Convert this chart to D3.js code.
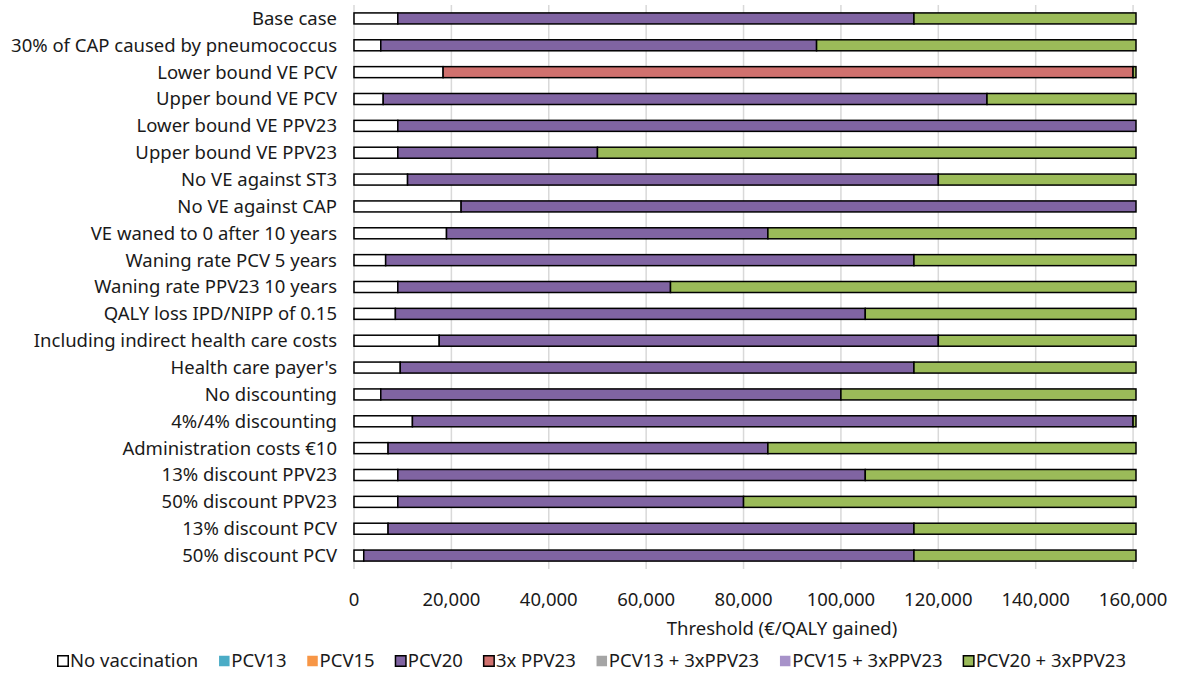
<!DOCTYPE html>
<html>
<head>
<meta charset="utf-8">
<script src="https://cdn.jsdelivr.net/npm/d3@7"></script>
<style>
  html, body { margin: 0; padding: 0; background: #fff; }
  svg { display: block; font-family: "Noto Sans", "DejaVu Sans", sans-serif; }
</style>
</head>
<body>
<svg id="chart" width="1178" height="675"></svg>
<script>
// Scenarios, top to bottom
const scenarios = [
  "Base case",
  "30% of CAP caused by pneumococcus",
  "Lower bound VE PCV",
  "Upper bound VE PCV",
  "Lower bound VE PPV23",
  "Upper bound VE PPV23",
  "No VE against ST3",
  "No VE against CAP",
  "VE waned to 0 after 10 years",
  "Waning rate PCV 5 years",
  "Waning rate PPV23 10 years",
  "QALY loss IPD/NIPP of 0.15",
  "Including indirect health care costs",
  "Health care payer's",
  "No discounting",
  "4%/4% discounting",
  "Administration costs €10",
  "13% discount PPV23",
  "50% discount PPV23",
  "13% discount PCV",
  "50% discount PCV"
];

// Width of the threshold range (€/QALY) over which each strategy is optimal
const noVaccination = [9000, 5500, 18300, 6000, 9000, 9000, 11000, 22000, 19000, 6500, 9000,
                       8500, 17500, 9500, 5500, 12000, 7000, 9000, 9000, 7000, 2000];
const pcv13 = new Array(21).fill(0);
const pcv15 = new Array(21).fill(0);
const pcv20 = [106000, 89500, 0, 124000, 151600, 41000, 109000, 138600, 66000, 108500, 56000,
               96500, 102500, 105500, 94500, 148000, 78000, 96000, 71000, 108000, 113000];
const ppv23x3 = [0, 0, 141700, 0, 0, 0, 0, 0, 0, 0, 0,
                 0, 0, 0, 0, 0, 0, 0, 0, 0, 0];
const pcv13ppv23 = new Array(21).fill(0);
const pcv15ppv23 = new Array(21).fill(0);
const pcv20ppv23 = [45600, 65600, 600, 30600, 0, 110600, 40600, 0, 75600, 45600, 95600,
                    55600, 40600, 45600, 60600, 600, 75600, 55600, 80600, 45600, 45600];

const xTicks = [0, 20000, 40000, 60000, 80000, 100000, 120000, 140000, 160000];
const xMax = 160600;

const series = [
  { name: "No vaccination",   values: noVaccination, color: "#ffffff", outline: true },
  { name: "PCV13",            values: pcv13,         color: "#4bacc6", outline: false },
  { name: "PCV15",            values: pcv15,         color: "#f79646", outline: false },
  { name: "PCV20",            values: pcv20,         color: "#8064a2", outline: true },
  { name: "3x PPV23",         values: ppv23x3,       color: "#d0716e", outline: true },
  { name: "PCV13 + 3xPPV23",  values: pcv13ppv23,   color: "#a5a5a5", outline: false },
  { name: "PCV15 + 3xPPV23",  values: pcv15ppv23,   color: "#a792c9", outline: false },
  { name: "PCV20 + 3xPPV23",  values: pcv20ppv23,   color: "#9bbb59", outline: true }
];

const svg = d3.select("#chart");
const textColor = "#1a1a1a";

// Pick a font size so the longest scenario label spans about 305px
const probe = svg.append("text").attr("font-size", 16).text("Including indirect health care costs");
const fs = Math.min(18.5, 16 * 305 / probe.node().getComputedTextLength());
probe.remove();

const x = d3.scaleLinear().domain([0, xMax]).range([354, 1136]);
const y = d3.scaleBand().domain(scenarios).range([5, 569])
  .paddingInner(0.59).paddingOuter(0.295);

// Vertical gridlines
svg.append("g").selectAll("line").data(xTicks).join("line")
  .attr("x1", d => x(d)).attr("x2", d => x(d))
  .attr("y1", 5).attr("y2", 569)
  .attr("stroke", "#d9d9d9").attr("stroke-width", 1.5);

// Stacked bars
const rows = scenarios.map((s, i) => {
  const r = { scenario: s };
  series.forEach(se => { r[se.name] = se.values[i]; });
  return r;
});
const stack = d3.stack().keys(series.map(s => s.name));
const layers = stack(rows);

const barG = svg.append("g");
layers.forEach((layer, k) => {
  const se = series[k];
  barG.append("g").selectAll("rect")
    .data(layer.filter(d => d[1] - d[0] > 0))
    .join("rect")
    .attr("x", d => x(d[0]))
    .attr("width", d => x(d[1]) - x(d[0]))
    .attr("y", d => y(d.data.scenario))
    .attr("height", y.bandwidth())
    .attr("fill", se.color)
    .attr("stroke", "#000")
    .attr("stroke-width", 1.5);
});

// Category labels
svg.append("g").selectAll("text").data(scenarios).join("text")
  .attr("x", 337)
  .attr("y", d => y(d) + y.bandwidth() / 2)
  .attr("dy", "0.35em")
  .attr("text-anchor", "end")
  .attr("font-size", fs)
  .attr("fill", textColor)
  .text(d => d);

// Value axis tick labels
const fmt = d3.format(",");
svg.append("g").selectAll("text").data(xTicks).join("text")
  .attr("x", d => x(d))
  .attr("y", 600)
  .attr("dy", "0.35em")
  .attr("text-anchor", "middle")
  .attr("font-size", fs)
  .attr("fill", textColor)
  .text(d => fmt(d));

// Axis title
svg.append("text")
  .attr("x", 782).attr("y", 629).attr("dy", "0.35em")
  .attr("text-anchor", "middle")
  .attr("font-size", fs)
  .attr("fill", textColor)
  .text("Threshold (€/QALY gained)");

// Legend
const legend = svg.append("g").attr("transform", "translate(0,661)");
const items = [];
series.forEach(se => {
  const g = legend.append("g");
  g.append("rect")
    .attr("x", 0.75).attr("y", -5.25)
    .attr("width", 10.5).attr("height", 10.5)
    .attr("fill", se.color)
    .attr("stroke", se.outline ? "#000" : "none")
    .attr("stroke-width", 1.5);
  const t = g.append("text")
    .attr("x", 13).attr("dy", "0.35em")
    .attr("font-size", fs)
    .attr("fill", textColor)
    .text(se.name);
  const w = 13 + t.node().getComputedTextLength();
  items.push({ g, w });
});
const total = 1069;
const gap = (total - d3.sum(items, d => d.w)) / (items.length - 1);
let cx = 57;
items.forEach(it => {
  it.g.attr("transform", `translate(${cx},0)`);
  cx += it.w + gap;
});
</script>
</body>
</html>
